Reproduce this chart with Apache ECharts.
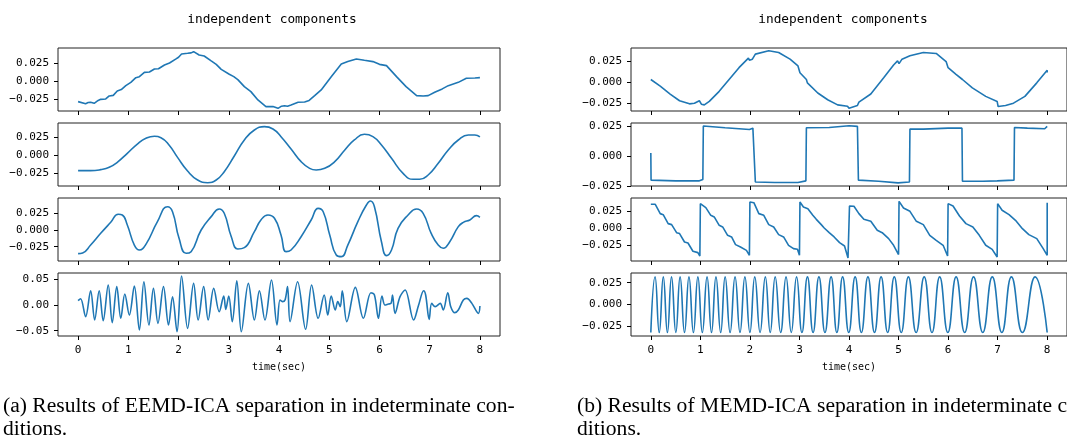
<!DOCTYPE html>
<html>
<head>
<meta charset="utf-8">
<title>independent components</title>
<script src="https://cdn.jsdelivr.net/npm/echarts@6/dist/echarts.min.js"></script>
<style>
  html, body { margin: 0; padding: 0; background: #fff; }
  #chart { width: 1067px; height: 439px; }
</style>
</head>
<body>
<div id="chart"></div>
<script>
// x ticks shared by every subplot (seconds)
const timeTicks = [0, 1, 2, 3, 4, 5, 6, 7, 8];
const yTicksNarrow = [-0.025, 0, 0.025];
const yTicksWide = [-0.05, 0, 0.05];

// (a) EEMD-ICA components, [time, value]
const eemdIc1 = [
  [0, -0.0287], [0.15, -0.0315], [0.2, -0.0300], [0.25, -0.0296], [0.32, -0.0310], [0.4, -0.0270],
  [0.45, -0.0255], [0.55, -0.0250], [0.62, -0.0208], [0.7, -0.0200], [0.78, -0.0139], [0.86, -0.0120],
  [0.95, -0.0065], [1.05, -0.0020], [1.15, 0.0046], [1.22, 0.0060], [1.32, 0.0120], [1.42, 0.0125],
  [1.52, 0.0167], [1.6, 0.0170], [1.72, 0.0222], [1.82, 0.0250], [1.95, 0.0306], [2.0, 0.0330],
  [2.06, 0.0375], [2.18, 0.0384], [2.25, 0.0390], [2.3, 0.0407], [2.41, 0.0361], [2.51, 0.0347],
  [2.65, 0.0278], [2.75, 0.0230], [2.85, 0.0162], [3.01, 0.0093], [3.1, 0.0060], [3.18, 0.0019],
  [3.31, -0.0079], [3.44, -0.0148], [3.58, -0.0264], [3.74, -0.0356], [3.88, -0.0356], [3.98, -0.0380],
  [4.05, -0.0350], [4.11, -0.0343], [4.17, -0.0350], [4.24, -0.0333], [4.38, -0.0296], [4.51, -0.0292],
  [4.6, -0.0270], [4.71, -0.0204], [4.84, -0.0125], [5.04, 0.0060], [5.24, 0.0236], [5.37, 0.0269],
  [5.54, 0.0306], [5.7, 0.0287], [5.87, 0.0269], [6.0, 0.0231], [6.14, 0.0213], [6.34, 0.0060],
  [6.53, -0.0079], [6.74, -0.0204], [6.87, -0.0208], [6.97, -0.0204], [7.1, -0.0157], [7.25, -0.0110],
  [7.37, -0.0065], [7.57, -0.0019], [7.73, 0.0037], [7.9, 0.0042], [8.0, 0.0046]
];
const eemdIc2 = [
  [0, -0.0213], [0.25, -0.0213], [0.45, -0.0199], [0.62, -0.0167], [0.78, -0.0097], [0.98, 0.0028],
  [1.18, 0.0157], [1.35, 0.0236], [1.52, 0.0264], [1.65, 0.0245], [1.81, 0.0144], [1.98, -0.0028],
  [2.18, -0.0218], [2.38, -0.0343], [2.58, -0.0380], [2.75, -0.0343], [2.91, -0.0227], [3.11, -0.0009],
  [3.31, 0.0213], [3.51, 0.0352], [3.71, 0.0398], [3.88, 0.0366], [4.04, 0.0259], [4.24, 0.0088],
  [4.44, -0.0088], [4.61, -0.0181], [4.74, -0.0204], [4.91, -0.0181], [5.11, -0.0088], [5.31, 0.0074],
  [5.5, 0.0213], [5.7, 0.0292], [5.87, 0.0259], [6.04, 0.0144], [6.24, -0.0042], [6.47, -0.0250],
  [6.67, -0.0333], [6.8, -0.0333], [6.97, -0.0273], [7.17, -0.0111], [7.37, 0.0074], [7.57, 0.0213],
  [7.77, 0.0282], [7.9, 0.0282], [8.0, 0.0255]
];
const eemdIc3 = [
  [0, -0.0354], [0.09, -0.0344], [0.25, -0.0225], [0.45, -0.0050], [0.65, 0.0115], [0.8, 0.0235],
  [0.88, 0.0225], [0.98, 0.0075], [1.12, -0.0225], [1.22, -0.0300], [1.35, -0.0215], [1.58, 0.0125],
  [1.78, 0.0349], [1.88, 0.0274], [2.01, -0.0125], [2.15, -0.0349], [2.25, -0.0324], [2.45, 0.0],
  [2.65, 0.0200], [2.81, 0.0314], [2.91, 0.0250], [3.05, -0.0100], [3.18, -0.0284], [3.31, -0.0264],
  [3.51, -0.0025], [3.64, 0.0150], [3.78, 0.0225], [3.91, 0.0175], [4.04, -0.0075], [4.14, -0.0324],
  [4.24, -0.0299], [4.44, -0.0100], [4.64, 0.0150], [4.78, 0.0324], [4.88, 0.0274], [5.01, -0.0075],
  [5.14, -0.0374], [5.24, -0.0399], [5.37, -0.0225], [5.57, 0.0125], [5.74, 0.0374], [5.82, 0.0434],
  [5.9, 0.0349], [6.04, -0.0175], [6.14, -0.0384], [6.24, -0.0299], [6.37, 0.0025], [6.57, 0.0225],
  [6.74, 0.0314], [6.87, 0.0250], [7.03, -0.0050], [7.17, -0.0225], [7.27, -0.0274], [7.4, -0.0175],
  [7.57, 0.0050], [7.67, 0.0115], [7.8, 0.0150], [7.93, 0.0215], [8.0, 0.0190]
];
const eemdIc4 = [
  [0, 0.0084], [0.05, 0.0123], [0.15, -0.0227], [0.25, 0.0279], [0.33, -0.0292], [0.42, 0.0279],
  [0.5, -0.0305], [0.6, 0.0389], [0.68, -0.0344], [0.77, 0.0357], [0.85, -0.0259], [0.93, 0.0214],
  [1.02, -0.0195], [1.12, 0.0370], [1.22, -0.0486], [1.31, 0.0454], [1.41, -0.0389], [1.5, 0.0324],
  [1.59, -0.0357], [1.7, 0.0357], [1.8, -0.0389], [1.88, 0.0162], [1.97, -0.0519], [2.06, 0.0564],
  [2.18, -0.0454], [2.3, 0.0422], [2.39, -0.0292], [2.5, 0.0357], [2.59, -0.0292], [2.7, 0.0324],
  [2.81, -0.0130], [2.9, 0.0175], [2.94, -0.0084], [3.0, 0.0175], [3.07, -0.0324], [3.16, 0.0473],
  [3.25, -0.0519], [3.39, 0.0422], [3.51, -0.0292], [3.61, 0.0279], [3.72, -0.0292], [3.85, 0.0486],
  [3.96, -0.0389], [4.02, 0.0097], [4.07, 0.0065], [4.12, 0.0097], [4.17, 0.0357], [4.22, -0.0324],
  [4.37, 0.0454], [4.53, -0.0473], [4.65, 0.0389], [4.78, -0.0259], [4.9, 0.0195], [4.97, -0.0195],
  [5.04, 0.0175], [5.12, -0.0097], [5.17, 0.0065], [5.22, -0.0032], [5.26, 0.0279], [5.35, -0.0324],
  [5.52, 0.0344], [5.68, -0.0259], [5.83, 0.0240], [5.9, 0.0195], [5.98, -0.0259], [6.05, 0.0175],
  [6.11, 0.0], [6.18, 0.0020], [6.23, 0.0032], [6.26, 0.0195], [6.31, -0.0162], [6.41, 0.0162],
  [6.51, 0.0292], [6.68, -0.0292], [6.78, 0.0], [6.88, 0.0279], [6.92, 0.0195], [6.99, -0.0279],
  [7.04, 0.0032], [7.11, -0.0032], [7.21, 0.0032], [7.27, -0.0097], [7.36, 0.0240], [7.42, -0.0032],
  [7.5, -0.0149], [7.57, -0.0097], [7.67, 0.0097], [7.74, 0.0130], [7.84, 0.0032], [7.97, -0.0162],
  [8.0, -0.0019]
];

// (b) MEMD-ICA components, [time, value]
const memdIc1 = [
  [0, 0.0028], [0.19, -0.0052], [0.39, -0.0145], [0.58, -0.0225], [0.78, -0.0262], [0.88, -0.0254],
  [0.98, -0.0225], [1.02, -0.0266], [1.08, -0.0274], [1.18, -0.0233], [1.38, -0.0113], [1.58, 0.0028],
  [1.78, 0.0169], [1.97, 0.0282], [1.99, 0.0258], [2.05, 0.0270], [2.11, 0.0330], [2.38, 0.0370],
  [2.58, 0.0350], [2.81, 0.0270], [2.97, 0.0189], [3.01, 0.0109], [3.14, 0.0028], [3.16, -0.0012],
  [3.37, -0.0133], [3.57, -0.0213], [3.77, -0.0274], [3.97, -0.0290], [4.0, -0.0314], [4.17, -0.0282],
  [4.2, -0.0242], [4.44, -0.0145], [4.7, 0.0048], [4.9, 0.0201], [4.98, 0.0250], [5.01, 0.0217],
  [5.07, 0.0270], [5.23, 0.0310], [5.27, 0.0298], [5.5, 0.0350], [5.76, 0.0338], [5.96, 0.0242],
  [6.0, 0.0169], [6.16, 0.0089], [6.29, 0.0028], [6.49, -0.0072], [6.76, -0.0173], [6.99, -0.0233],
  [7.01, -0.0294], [7.16, -0.0282], [7.32, -0.0254], [7.35, -0.0266], [7.55, -0.0173], [7.79, -0.0012],
  [8.0, 0.0137], [8.0, 0.0110]
];
const memdIc2 = [
  [0, 0.0023], [0.005, -0.0203], [0.5, -0.0209], [0.98, -0.0209], [1.02, -0.0198], [1.05, -0.0198],
  [1.06, 0.0249], [1.5, 0.0234], [1.99, 0.0220], [2.06, 0.0231], [2.1, 0.0231], [2.11, -0.0218],
  [2.5, -0.0223], [2.97, -0.0223], [3.0, -0.0209], [3.13, -0.0209], [3.14, 0.0234], [3.6, 0.0237],
  [4.0, 0.0251], [4.17, 0.0246], [4.19, -0.0203], [4.6, -0.0212], [4.99, -0.0226], [5.01, -0.0212],
  [5.22, -0.0218], [5.23, 0.0223], [5.5, 0.0223], [6.0, 0.0231], [6.28, 0.0231], [6.29, -0.0212],
  [6.7, -0.0212], [6.99, -0.0209], [7.02, -0.0198], [7.33, -0.0203], [7.34, 0.0237], [7.6, 0.0231],
  [7.95, 0.0226], [8.0, 0.0246]
];
const memdIc3 = [
  [0, 0.0353], [0.09, 0.0353], [0.19, 0.0216], [0.25, 0.0201], [0.35, 0.0069], [0.42, 0.0054],
  [0.52, -0.0064], [0.58, -0.0078], [0.68, -0.0201], [0.75, -0.0216], [0.85, -0.0338], [0.95, -0.0358],
  [0.99, -0.0407], [1.0, 0.0363], [1.11, 0.0304], [1.21, 0.0191], [1.28, 0.0167], [1.38, 0.0044],
  [1.45, 0.0020], [1.55, -0.0103], [1.63, -0.0127], [1.71, -0.0240], [1.81, -0.0275], [1.93, -0.0324],
  [1.99, -0.0397], [2.0, 0.0387], [2.08, 0.0377], [2.18, 0.0216], [2.28, 0.0191], [2.38, 0.0054],
  [2.48, 0.0020], [2.58, -0.0093], [2.68, -0.0127], [2.78, -0.0250], [2.88, -0.0299], [2.96, -0.0309],
  [3.0, -0.0397], [3.01, 0.0387], [3.08, 0.0314], [3.17, 0.0289], [3.27, 0.0191], [3.34, 0.0132],
  [3.44, 0.0054], [3.5, 0.0005], [3.6, -0.0064], [3.7, -0.0127], [3.81, -0.0211], [3.91, -0.0260],
  [3.98, -0.0436], [4.01, 0.0328], [4.1, 0.0324], [4.2, 0.0216], [4.3, 0.0132], [4.44, 0.0103],
  [4.57, -0.0029], [4.67, -0.0064], [4.8, -0.0152], [4.9, -0.0250], [5.0, -0.0387], [5.01, 0.0397],
  [5.1, 0.0299], [5.23, 0.0250], [5.36, 0.0103], [5.5, 0.0054], [5.63, -0.0103], [5.76, -0.0177],
  [5.9, -0.0250], [5.99, -0.0407], [6.0, 0.0363], [6.1, 0.0328], [6.23, 0.0181], [6.36, 0.0069],
  [6.5, 0.0020], [6.63, -0.0103], [6.76, -0.0250], [6.89, -0.0309], [6.99, -0.0422], [7.0, 0.0363],
  [7.09, 0.0265], [7.23, 0.0201], [7.36, 0.0118], [7.5, -0.0005], [7.63, -0.0093], [7.79, -0.0152],
  [7.92, -0.0299], [8.0, -0.0397], [8.0, 0.0377]
];
const memdIc4 = [
  [0, -0.0321], [0.086, 0.0317], [0.17, -0.0321], [0.252, 0.0317], [0.335, -0.0321], [0.418, 0.0317],
  [0.505, -0.0321], [0.591, 0.0317], [0.68, -0.0321], [0.77, 0.0317], [0.86, -0.0321], [0.95, 0.0317],
  [1.04, -0.0321], [1.135, 0.0317], [1.225, -0.0321], [1.315, 0.0317], [1.41, -0.0321], [1.5, 0.0317],
  [1.6, -0.0321], [1.7, 0.0317], [1.8, -0.0321], [1.899, 0.0317], [2.0, -0.0321], [2.098, 0.0317],
  [2.205, -0.0321], [2.311, 0.0317], [2.41, -0.0321], [2.51, 0.0317], [2.62, -0.0321], [2.729, 0.0317],
  [2.835, -0.0321], [2.942, 0.0317], [3.05, -0.0321], [3.161, 0.0317], [3.275, -0.0321], [3.393, 0.0317],
  [3.515, -0.0321], [3.639, 0.0317], [3.755, -0.0321], [3.871, 0.0317], [3.995, -0.0321], [4.124, 0.0317],
  [4.25, -0.0321], [4.382, 0.0317], [4.515, -0.0321], [4.648, 0.0317], [4.78, -0.0321], [4.914, 0.0317],
  [5.055, -0.0321], [5.199, 0.0317], [5.355, -0.0321], [5.518, 0.0317], [5.675, -0.0321], [5.83, 0.0317],
  [5.995, -0.0321], [6.162, 0.0317], [6.335, -0.0321], [6.514, 0.0317], [6.7, -0.0321], [6.892, 0.0317],
  [7.085, -0.0321], [7.278, 0.0317], [7.5, -0.0321], [7.756, 0.0317], [8.0, -0.0321]
];

const chart = echarts.init(document.getElementById('chart'), null, { renderer: 'canvas' });

const mono = 'DejaVu Sans Mono';
const lineColor = '#1f77b4';
const spine = '#222';
const rowTops = [48, 123, 198, 273];
const rowHeight = 63;

// one panel per method: left edge, width, title centre, its 4 components
const panels = [
  {
    left: 58, width: 442, titleX: 267,
    series: [eemdIc1, eemdIc2, eemdIc3, eemdIc4],
    ylim: [[-0.0417, 0.0458], [-0.0426, 0.0449], [-0.0464, 0.0479], [-0.0603, 0.0623]],
    smooth: [false, true, true, 0.35],
    ticks: [yTicksNarrow, yTicksNarrow, yTicksNarrow, yTicksWide],
    digits: [3, 3, 3, 2]
  },
  {
    left: 631, width: 438, titleX: 838,
    series: [memdIc1, memdIc2, memdIc3, memdIc4],
    ylim: [[-0.0347, 0.0403], [-0.0252, 0.0274], [-0.0481, 0.0446], [-0.0361, 0.0361]],
    smooth: [false, false, false, true],
    ticks: [yTicksNarrow, yTicksNarrow, yTicksNarrow, yTicksNarrow],
    digits: [3, 3, 3, 3]
  }
];

const fmt = (digits) => (v) => (v < 0 ? '\u2212' : '') + Math.abs(v).toFixed(digits);

const grid = [], xAxis = [], yAxis = [], series = [], title = [];

panels.forEach((p) => {
  title.push({
    text: 'independent components',
    left: p.titleX, top: 8, textAlign: 'center',
    textStyle: { fontFamily: mono, fontSize: 12.8, fontWeight: 'normal', color: '#000' }
  });
  for (let r = 0; r < 4; r++) {
    const idx = grid.length;
    const last = r === 3;
    grid.push({
      left: p.left, top: rowTops[r], width: p.width, height: rowHeight,
      show: true, borderColor: spine, borderWidth: 1, backgroundColor: 'transparent'
    });
    xAxis.push({
      type: 'value', gridIndex: idx, min: -0.4, max: 8.4, position: 'bottom',
      splitLine: { show: false },
      axisLine: { show: false, onZero: false },
      axisTick: { show: true, length: 4, lineStyle: { color: '#000' }, customValues: timeTicks },
      axisLabel: {
        show: last, customValues: timeTicks, margin: 9,
        fontFamily: mono, fontSize: 11, color: '#000'
      },
      name: last ? 'time(sec)' : '',
      nameLocation: 'middle', nameGap: 26,
      nameTextStyle: { fontFamily: mono, fontSize: 10, color: '#000' }
    });
    yAxis.push({
      type: 'value', gridIndex: idx, min: p.ylim[r][0], max: p.ylim[r][1], position: 'left',
      splitLine: { show: false },
      axisLine: { show: false, onZero: false },
      axisTick: { show: true, length: 4, lineStyle: { color: '#000' }, customValues: p.ticks[r] },
      axisLabel: {
        customValues: p.ticks[r], margin: 9, formatter: fmt(p.digits[r]),
        fontFamily: mono, fontSize: 11, color: '#000'
      }
    });
    series.push({
      type: 'line', xAxisIndex: idx, yAxisIndex: idx,
      data: p.series[r], showSymbol: false, smooth: p.smooth[r],
      lineStyle: { color: lineColor, width: 1.6 },
      clip: true
    });
  }
});

const captionFont = '20px "Liberation Serif"';
const captionScale = 1.08;

chart.setOption({
  animation: false,
  backgroundColor: '#fff',
  title,
  grid,
  xAxis,
  yAxis,
  series,
  graphic: [
    { type: 'text', x: 3, y: 397, scaleX: captionScale, style: { text: '(a) Results of EEMD-ICA separation in indeterminate con-', font: captionFont, fill: '#000' } },
    { type: 'text', x: 3, y: 420, scaleX: captionScale, style: { text: 'ditions.', font: captionFont, fill: '#000' } },
    { type: 'text', x: 577, y: 397, scaleX: captionScale, style: { text: '(b) Results of MEMD-ICA separation in indeterminate con-', font: captionFont, fill: '#000' } },
    { type: 'text', x: 577, y: 420, scaleX: captionScale, style: { text: 'ditions.', font: captionFont, fill: '#000' } }
  ]
});
</script>
</body>
</html>
